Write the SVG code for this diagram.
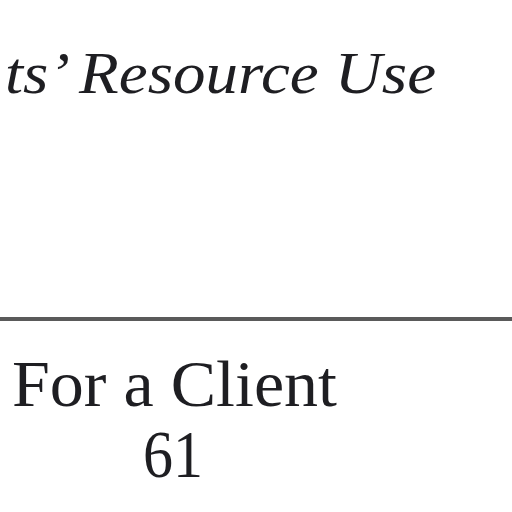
<svg xmlns="http://www.w3.org/2000/svg" width="512" height="512" viewBox="0 0 512 512">
<style>
.t{font-family:"Liberation Serif","Times New Roman",serif;fill:#1e1e22}
.it{font-style:italic}
</style>
<rect width="512" height="512" fill="#ffffff"/>
<text class="t it" x="5" y="93" font-size="60" textLength="431" lengthAdjust="spacingAndGlyphs">ts’ Resource Use</text>
<line x1="0" y1="319" x2="512" y2="319" stroke="#5a5a5a" stroke-width="4"/>
<text class="t" x="12" y="406" font-size="66" textLength="325" lengthAdjust="spacingAndGlyphs">For a Client</text>
<text class="t" x="143" y="477" font-size="68" textLength="60" lengthAdjust="spacingAndGlyphs">61</text>
</svg>
